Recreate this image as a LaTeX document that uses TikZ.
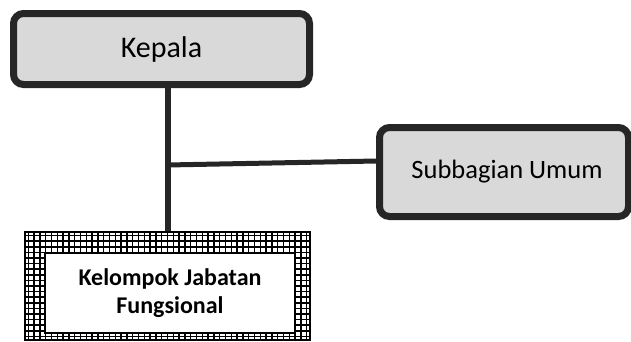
\documentclass[tikz,border=0pt]{standalone}
\usepackage{fontspec}
\setmainfont{Carlito}
\definecolor{boxfill}{HTML}{D9D9D9}
\definecolor{boxline}{HTML}{262626}
\tikzset{
  unitbox/.style={draw=boxline, fill=boxfill, line width=7pt, rounded corners=10pt, inner sep=0pt, text=black},
  conn/.style={draw=boxline, line width=6pt},
  hconn/.style={draw=boxline, line width=5pt},
  hatchframe/.style={draw=black, line width=1.8pt, fill=white, inner sep=0pt,
    path picture={\draw[black, line width=1.5pt, xstep=5.8pt, ystep=5.6pt] ([shift={(-1pt,-1pt)}]path picture bounding box.south west) grid ([shift={(1pt,1pt)}]path picture bounding box.north east);}},
  innerbox/.style={draw=black, line width=2pt, fill=white, inner sep=0pt, align=center, text=black}
}
\begin{document}
\begin{tikzpicture}[x=1pt,y=-1pt]
\useasboundingbox (0,0) rectangle (631,341);
\node[unitbox, minimum width=296pt, minimum height=71pt, font=\fontsize{30}{36}\selectfont] (kepala) at (161.5,49) {Kepala};
\node[unitbox, minimum width=249pt, minimum height=89pt, font=\fontsize{26.5}{31}\selectfont] (subbag) at (504,172) {\hspace*{6pt}Subbagian Umum};
\node[hatchframe, minimum width=285pt, minimum height=108pt] (kjf) at (167.5,286) {};
\node[innerbox, minimum width=250pt, minimum height=80pt, font=\fontsize{24}{28}\selectfont\bfseries] (kjfin) at (170,293) {Kelompok Jabatan\\Fungsional};
\coordinate (hj) at (167,165);
\draw[conn] (kjf.north |- kepala.south) -- (kjf.north);
\draw[hconn] (hj) -- ([yshift=11pt]subbag.west);
\end{tikzpicture}
\end{document}
